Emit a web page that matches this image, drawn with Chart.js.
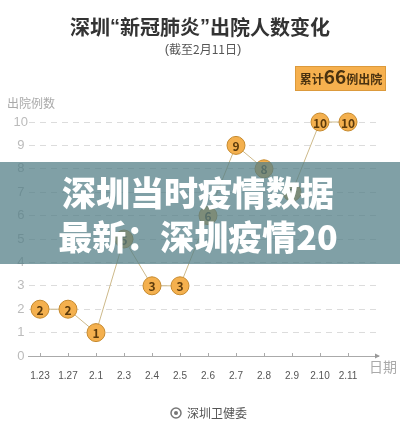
<!DOCTYPE html>
<html>
<head>
<meta charset="utf-8">
<script src="https://cdn.jsdelivr.net/npm/chart.js@4"></script>
<style>
  body { margin: 0; background: #fff; }
  #wrap { width: 400px; height: 426px; position: relative; }
</style>
</head>
<body>
<div id="wrap"><canvas id="chart" width="400" height="426"></canvas></div>
<script>
const dates = ["1.23", "1.27", "2.1", "2.3", "2.4", "2.5", "2.6", "2.7", "2.8", "2.9", "2.10", "2.11"];
const discharged = [2, 2, 1, 5, 3, 3, 6, 9, 8, 7, 10, 10];
const yTicks = [0, 1, 2, 3, 4, 5, 6, 7, 8, 9, 10];

const CJK = '"Noto Sans CJK SC", "Noto Sans", sans-serif';

// draws pieces of text one after another, each with its own font
function drawRun(ctx, parts, cx, y) {
    let total = 0;
    parts.forEach(p => { ctx.font = p.font; p.w = ctx.measureText(p.text).width; total += p.w; });
    let x = cx - total / 2;
    ctx.textAlign = "left";
    parts.forEach(p => { ctx.font = p.font; ctx.fillText(p.text, x, y); x += p.w; });
}

// text, badge, overlay band, footer
const decor = {
    id: "decor",
    afterDatasetsDraw(chart) {
        const ctx = chart.ctx;
        const meta = chart.getDatasetMeta(0);

        // numbers inside the circles
        ctx.save();
        ctx.font = "bold 12px " + CJK;
        ctx.fillStyle = "#5b3a0c";
        ctx.textAlign = "center";
        ctx.textBaseline = "middle";
        meta.data.forEach((p, i) => {
            ctx.fillText(String(discharged[i]), p.x, p.y + 1);
        });
        ctx.restore();
    },
    afterDraw(chart) {
        const ctx = chart.ctx;
        const xs = chart.scales.x;
        const ys = chart.scales.y;
        ctx.save();

        // axis arrow + small ticks
        const y0 = ys.getPixelForValue(0);
        ctx.fillStyle = "#999";
        ctx.beginPath();
        ctx.moveTo(xs.right + 2, y0);
        ctx.lineTo(xs.right - 3, y0 - 2.5);
        ctx.lineTo(xs.right - 3, y0 + 2.5);
        ctx.closePath();
        ctx.fill();
        ctx.strokeStyle = "#aaa";
        ctx.lineWidth = 1;
        dates.forEach((d, i) => {
            const x = Math.round(xs.getPixelForValue(i)) + 0.5;
            ctx.beginPath();
            ctx.moveTo(x, y0 - 3);
            ctx.lineTo(x, y0);
            ctx.stroke();
        });

        // title
        ctx.textBaseline = "middle";
        ctx.fillStyle = "#333";
        const tf = "bold 20px " + CJK;
        const qf = "bold 20px 'Liberation Sans'";
        drawRun(ctx, [
            { text: "深圳", font: tf }, { text: "“", font: qf },
            { text: "新冠肺炎", font: tf }, { text: "”", font: qf },
            { text: "出院人数变化", font: tf }
        ], 200, 27);
        ctx.fillStyle = "#555";
        const sf = "12px " + CJK;
        const pf = "13px 'Liberation Sans'";
        drawRun(ctx, [
            { text: "(", font: pf }, { text: "截至2月11日", font: sf }, { text: ")", font: pf }
        ], 203, 49);

        // badge
        ctx.fillStyle = "#f6b04e";
        ctx.fillRect(295, 66, 91, 25);
        ctx.strokeStyle = "#dc9a3c";
        ctx.strokeRect(295.5, 66.5, 90, 24);
        ctx.fillStyle = "#4a3210";
        ctx.textBaseline = "alphabetic";
        drawRun(ctx, [
            { text: "累计", font: "bold 12px " + CJK },
            { text: "66", font: "bold 19px " + CJK },
            { text: "例出院", font: "bold 12px " + CJK }
        ], 341, 84);

        // axis titles
        ctx.fillStyle = "#aaa";
        ctx.textAlign = "left";
        ctx.font = "12px " + CJK;
        ctx.textBaseline = "middle";
        ctx.fillText("出院例数", 7, 103);
        ctx.font = "14px " + CJK;
        ctx.fillText("日期", 369, 367);

        // overlay band
        ctx.fillStyle = "rgba(86,128,136,0.75)";
        ctx.fillRect(0, 162, 400, 102);
        ctx.fillStyle = "#fff";
        ctx.textAlign = "center";
        ctx.font = "900 34px " + CJK;
        ctx.fillText("深圳当时疫情数据", 198, 193);
        ctx.fillText("最新：深圳疫情20", 198, 237);

        // footer
        ctx.strokeStyle = "#777";
        ctx.lineWidth = 1.5;
        ctx.beginPath();
        ctx.arc(176, 413, 5, 0, Math.PI * 2);
        ctx.stroke();
        ctx.fillStyle = "#777";
        ctx.beginPath();
        ctx.arc(176, 413, 2, 0, Math.PI * 2);
        ctx.fill();
        ctx.fillStyle = "#555";
        ctx.textAlign = "left";
        ctx.font = "12px " + CJK;
        ctx.fillText("深圳卫健委", 187, 413);

        ctx.restore();
    }
};

new Chart(document.getElementById("chart"), {
    type: "line",
    data: {
        datasets: [{
            data: discharged.map((v, i) => ({ x: i, y: v })),
            borderColor: "#cdb98a",
            borderWidth: 1,
            pointRadius: 9,
            pointBackgroundColor: "#f4b04e",
            pointBorderColor: "#c68a2e",
            pointBorderWidth: 1,
            clip: false,
            tension: 0
        }]
    },
    options: {
        responsive: false,
        animation: false,
        layout: { padding: { left: 0, right: 22, top: 122, bottom: 0 } },
        plugins: { legend: { display: false }, tooltip: { enabled: false } },
        scales: {
            x: {
                type: "linear",
                min: -12 / 28,
                max: 11 + 30 / 28,
                afterFit(s) { s.height = 70; },
                afterBuildTicks(s) { s.ticks = dates.map((d, i) => ({ value: i })); },
                grid: { display: false },
                border: { display: true, color: "#aaa", width: 1 },
                ticks: {
                    callback: (v) => dates[v],
                    color: "#555",
                    font: { size: 10, family: "Liberation Sans" },
                    padding: 6,
                    maxRotation: 0,
                    autoSkip: false
                }
            },
            y: {
                min: 0,
                max: 10,
                afterFit(s) { s.width = 28; },
                afterBuildTicks(s) { s.ticks = yTicks.map(v => ({ value: v })); },
                grid: {
                    color: (c) => c.tick.value === 0 ? "rgba(0,0,0,0)" : "#dcdcdc",
                    lineWidth: 1,
                    drawTicks: false
                },
                border: { display: true, color: "rgba(0,0,0,0)", dash: [6, 5] },
                ticks: {
                    color: "#bbb",
                    font: { size: 13, family: "Liberation Sans" },
                    crossAlign: "center",
                    padding: 0
                }
            }
        }
    },
    plugins: [decor]
});
</script>
</body>
</html>
